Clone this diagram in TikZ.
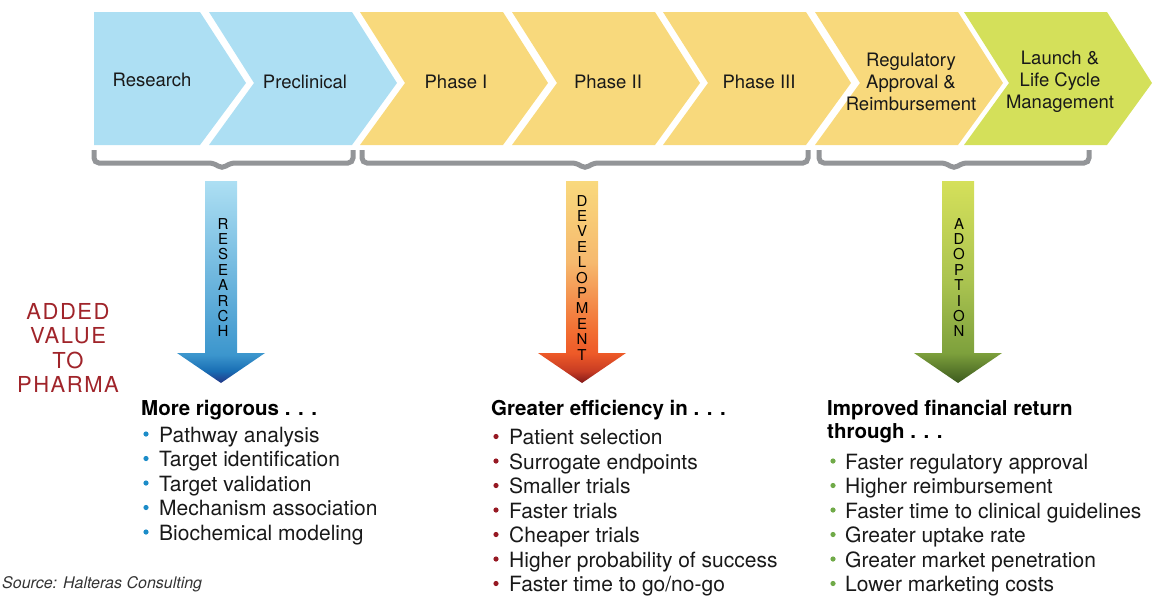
\documentclass[tikz,border=0pt]{standalone}
\usepackage{fontspec}
\setmainfont{TeX Gyre Heros}
\usetikzlibrary{positioning}
\newcommand{\tb}{\textbf}
\definecolor{chblue}{RGB}{173,223,243}
\definecolor{chyellow}{RGB}{248,217,124}
\definecolor{chgreen}{RGB}{212,224,90}
\definecolor{bracegray}{RGB}{147,149,152}
\definecolor{pharmared}{RGB}{160,36,42}
\definecolor{bulblue}{RGB}{28,140,200}
\definecolor{bulred}{RGB}{150,25,35}
\definecolor{bulgreen}{RGB}{112,170,72}
% shadings for the three big arrows (0bp = bottom, path fits 25bp..75bp)
\pgfdeclareverticalshading{resshade}{100bp}{color(0bp)=(rgb,255:red,35;green,55;blue,135);
  color(25bp)=(rgb,255:red,35;green,55;blue,135); color(28bp)=(rgb,255:red,25;green,110;blue,180);
  color(32bp)=(rgb,255:red,60;green,150;blue,205); color(75bp)=(rgb,255:red,173;green,223;blue,243);
  color(100bp)=(rgb,255:red,173;green,223;blue,243)}
\pgfdeclareverticalshading{devshade}{100bp}{color(0bp)=(rgb,255:red,130;green,25;blue,25);
  color(25bp)=(rgb,255:red,130;green,25;blue,25); color(28bp)=(rgb,255:red,200;green,60;blue,35);
  color(32.4bp)=(rgb,255:red,238;green,90;blue,40); color(38bp)=(rgb,255:red,242;green,110;blue,50);
  color(55bp)=(rgb,255:red,246;green,185;blue,110); color(75bp)=(rgb,255:red,249;green,217;blue,125);
  color(100bp)=(rgb,255:red,249;green,217;blue,125)}
\pgfdeclareverticalshading{adoshade}{100bp}{color(0bp)=(rgb,255:red,60;green,90;blue,30);
  color(25bp)=(rgb,255:red,60;green,90;blue,30); color(32.4bp)=(rgb,255:red,125;green,160;blue,60);
  color(50bp)=(rgb,255:red,170;green,195;blue,80); color(75bp)=(rgb,255:red,213;green,224;blue,90);
  color(100bp)=(rgb,255:red,213;green,224;blue,90)}

\begin{document}
\begin{tikzpicture}[x=1pt, y=-1pt,
  chevtext/.style = {font=\fontsize{18.5}{22}\selectfont, align=center, text=black!90},
  bracket/.style  = {draw=bracegray, line width=5pt, rounded corners=5pt},
  stack/.style    = {font=\fontsize{15}{15.4}\selectfont, align=center, inner sep=0pt, anchor=north},
  head/.style     = {font=\fontsize{20.5}{24.5}\selectfont, anchor=base west, inner sep=0pt},
  item/.style     = {font=\fontsize{21}{24.5}\selectfont, anchor=base west, inner sep=0pt, text=black!90}]

\useasboundingbox (0,0) rectangle (1156,595);

% chevrons, the first one has a flat left side
\fill[chblue] (94,12) -- (200,12) -- (246,83) -- (200,145) -- (94,145) -- cycle;
\node[chevtext] (ch1) at (152,80) {Research};
\foreach \xl/\col/\lbl [count=\i from 2] in {209/chblue/Preclinical, 360/chyellow/Phase I,
    512/chyellow/Phase II, 663/chyellow/Phase III,
    815/chyellow/{Regulatory\\Approval \&\\Reimbursement},
    964/chgreen/{Launch \&\\Life Cycle\\Management}}
{
  \fill[\col] (\xl,12) -- ++(143,0) -- ++(45,71) -- ++(-45,62) -- ++(-143,0) -- ++(45,-62) -- cycle;
  \node[chevtext] (ch\i) at (\xl+96,82) {\lbl};
}

% grey brackets under the groups
\foreach \xa/\xc/\xb in {94/222/353, 362/585/808, 819/954/1089}
  \draw[bracket] (\xa,150) -- (\xa,163) -- (\xc-8,163) -- (\xc,169) -- (\xc+8,163) -- (\xb,163) -- (\xb,150);

% big shaded arrows
\foreach \xc/\sh in {221/resshade, 582/devshade, 958/adoshade}
  \shade[shading=\sh] (\xc-16,181) -- (\xc+16,181) -- (\xc+16,353) -- (\xc+44,353)
    -- (\xc,383) -- (\xc-44,353) -- (\xc-16,353) -- cycle;

\node[stack] (vres) at (223,218) {R\\E\\S\\E\\A\\R\\C\\H};
\node[stack] (vdev) at (582,195) {D\\E\\V\\E\\L\\O\\P\\M\\E\\N\\T};
\node[stack] (vado) at (959,218) {A\\D\\O\\P\\T\\I\\O\\N};

\node[font=\fontsize{22}{24.5}\selectfont\addfontfeature{LetterSpace=7}, text=pharmared,
  align=center, anchor=north, inner sep=0pt] (added) at (68,303) {ADDED\\VALUE\\TO\\PHARMA};

% research list
\node[head] (rh) at (141,415) {\tb{More rigorous . . .}};
\foreach \txt [count=\i] in {Pathway analysis, Target identification, Target validation,
    Mechanism association, Biochemical modeling}
{
  \node[item] (r\i) at (159,{442+24.5*(\i-1)}) {\txt};
  \fill[bulblue] (146,{434+24.5*(\i-1)}) circle (2.6);
}

% development list
\node[head] (dh) at (491,415) {\tb{Greater efficiency in . . .}};
\foreach \txt [count=\i] in {Patient selection, Surrogate endpoints, Smaller trials, Faster trials,
    Cheaper trials, Higher probability of success, Faster time to go/no-go}
{
  \node[item] (d\i) at (509,{444.5+24.5*(\i-1)}) {\txt};
  \fill[bulred] (496,{436.5+24.5*(\i-1)}) circle (2.6);
}

% adoption list
\node[head] (ah) at (827,415) {\tb{Improved financial return}};
\node[head] (ah2) at (827,438) {\tb{through . . .}};
\foreach \txt [count=\i] in {Faster regulatory approval, Higher reimbursement,
    Faster time to clinical guidelines, Greater uptake rate, Greater market penetration,
    Lower marketing costs}
{
  \node[item] (a\i) at (845,{469+24.5*(\i-1)}) {\txt};
  \fill[bulgreen] (833,{461+24.5*(\i-1)}) circle (2.6);
}

\node[font=\fontsize{16}{19}\selectfont\itshape, text=black!80, anchor=base west, inner sep=0pt]
  (src) at (2,588) {Source: Halteras Consulting};
\end{tikzpicture}
\end{document}
